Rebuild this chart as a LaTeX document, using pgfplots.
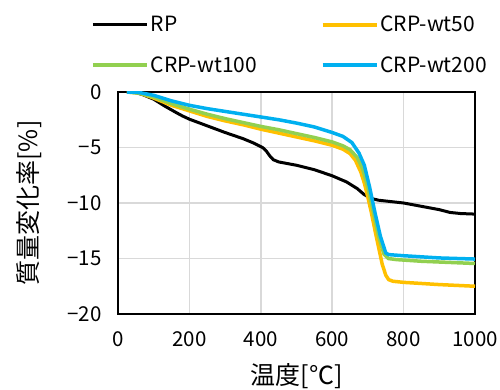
\documentclass[border=0pt]{standalone}
\usepackage{pgfplots}
\pgfplotsset{compat=1.18}
\usepackage{fontspec}
\setmainfont{Noto Sans CJK JP}
\definecolor{cy}{HTML}{FFC000}
\definecolor{cg}{HTML}{92D050}
\definecolor{cb}{HTML}{00B0F0}
\definecolor{gridc}{HTML}{D9D9D9}
\begin{document}
\begin{tikzpicture}
\path[use as bounding box] (-118pt,-76pt) rectangle (382pt,314pt);
\begin{axis}[
  scale only axis, width=357pt, height=222pt,
  xmin=0, xmax=1000, ymin=-20, ymax=0,
  xtick={0,200,...,1000}, ytick={-20,-15,-10,-5,0},
  yticklabels={−20,−15,−10,−5,0},
  /pgf/number format/assume math mode=true,
  /pgf/number format/1000 sep={},
  tick style={draw=none},
  grid=major, major grid style={gridc, line width=1.5pt},
  axis line style={black, line width=1.5pt},
  ticklabel style={font=\fontsize{20.5}{24}\selectfont},
  xticklabel style={yshift=-14pt},
  yticklabel style={xshift=-13pt},
  xlabel={温度[℃]}, ylabel={質量変化率[\%]},
  label style={font=\fontsize{25}{29}\selectfont},
  xlabel style={yshift=-10pt},
  ylabel style={yshift=19pt},
  legend columns=2,
  legend style={at={(-0.084,1.36)}, anchor=north west, draw=none, fill=none,
    font=\fontsize{21}{25}\selectfont, row sep=19pt,
    /tikz/every even column/.append style={column sep=62pt}},
  legend cell align=left,
  legend image code/.code={\draw[#1] (0pt,0pt) -- (54pt,0pt);},
]
\addplot[black, line width=3pt] coordinates {
(25,0) (50,-0.05) (70,-0.25) (100,-0.65) (130,-1.25) (160,-1.8) (180,-2.15) (200,-2.45) (250,-3.05) (300,-3.65) (350,-4.2) (380,-4.6) (405,-5.0) (415,-5.3) (425,-5.75) (435,-6.1) (450,-6.3) (500,-6.6) (550,-7.0) (600,-7.55) (640,-8.1) (670,-8.7) (690,-9.25) (710,-9.6) (730,-9.75) (800,-10.0) (850,-10.3) (900,-10.6) (930,-10.85) (960,-10.95) (1000,-11.0)};
\addlegendentry{RP}
\addplot[cy, line width=3.5pt] coordinates {
(25,0) (60,-0.1) (100,-0.55) (150,-1.2) (200,-1.7) (250,-2.2) (300,-2.6) (350,-2.95) (400,-3.35) (450,-3.7) (500,-4.05) (550,-4.4) (600,-4.8) (630,-5.15) (650,-5.55) (665,-6.15) (680,-7.2) (690,-8.2) (700,-9.5) (710,-10.9) (720,-12.5) (730,-14.0) (740,-15.5) (750,-16.5) (758,-16.9) (770,-17.05) (800,-17.15) (900,-17.35) (1000,-17.5)};
\addlegendentry{CRP-wt50}
\addplot[cg, line width=3.5pt] coordinates {
(25,0) (60,-0.1) (100,-0.45) (150,-1.05) (200,-1.55) (250,-2.0) (300,-2.4) (350,-2.75) (400,-3.1) (450,-3.4) (500,-3.75) (550,-4.1) (600,-4.5) (630,-4.85) (650,-5.2) (670,-5.9) (685,-6.9) (700,-8.6) (715,-10.8) (730,-13.0) (745,-14.6) (757,-15.0) (780,-15.1) (850,-15.25) (1000,-15.45)};
\addlegendentry{CRP-wt100}
\addplot[cb, line width=3.5pt] coordinates {
(25,0) (60,-0.05) (100,-0.3) (150,-0.8) (200,-1.2) (250,-1.5) (300,-1.75) (350,-2.0) (400,-2.25) (450,-2.5) (500,-2.8) (550,-3.15) (600,-3.65) (630,-4.0) (655,-4.55) (675,-5.5) (690,-6.6) (705,-8.6) (720,-10.9) (735,-13.0) (750,-14.5) (758,-14.65) (800,-14.75) (900,-14.95) (1000,-15.05)};
\addlegendentry{CRP-wt200}
\end{axis}
\end{tikzpicture}
\end{document}
